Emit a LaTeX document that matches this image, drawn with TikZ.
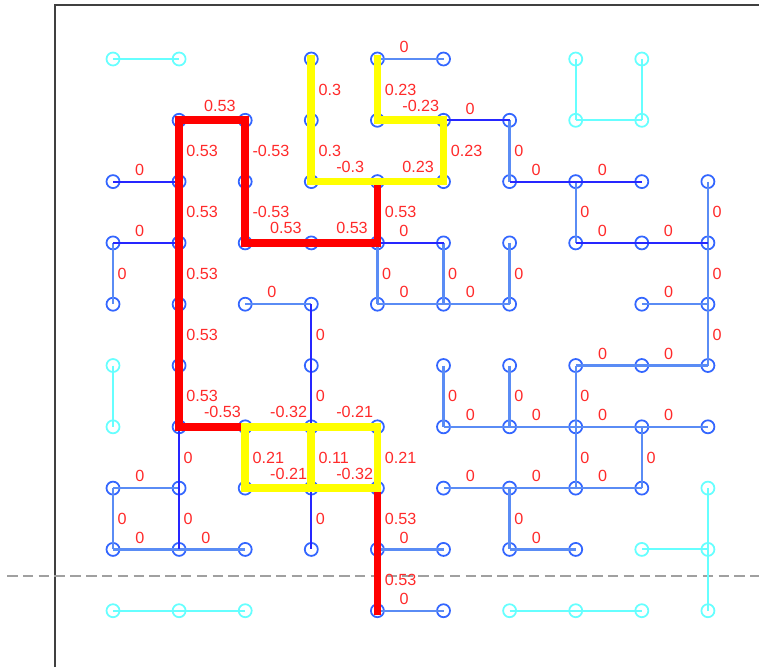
\documentclass[tikz,border=0pt]{standalone}
\usepackage{fontspec}
\usepackage{tikz}
\newfontfamily\labfont{Liberation Sans}
\definecolor{rojoPath}{HTML}{FF0000}
\definecolor{rojoText}{HTML}{FF2A2A}
\definecolor{amarillo}{HTML}{FFFF00}
\definecolor{azulOscuro}{HTML}{2626FF}
\definecolor{azulClaro}{HTML}{5A8CF5}
\definecolor{azulNodo}{HTML}{3366FF}
\definecolor{cian}{HTML}{66FFFF}
\definecolor{marco}{HTML}{404040}
\definecolor{guion}{HTML}{A0A0A0}

\begin{document}
\begin{tikzpicture}[x=0.02cm,y=-0.02cm,
    bnode/.style={circle,draw=azulNodo,line width=1pt,minimum size=0.26cm,inner sep=0pt},
    cnode/.style={circle,draw=cian,line width=1pt,minimum size=0.26cm,inner sep=0pt},
    redline/.style={draw=rojoPath,line width=4.4pt,line cap=rect},
    yelline/.style={draw=amarillo,line width=4.4pt,line cap=rect},
    darkline/.style={draw=azulOscuro,line width=1.1pt},
    lightline/.style={draw=azulClaro,line width=1.35pt},
    cyanline/.style={draw=cian,line width=1.1pt},
    hlab/.style={midway,anchor=south west,inner sep=0pt,xshift=-6.8pt,yshift=2.8pt,
      text=rojoText,font=\labfont\fontsize{9.2}{11}\selectfont},
    vlab/.style={midway,anchor=west,inner sep=0pt,xshift=2pt,
      text=rojoText,font=\labfont\fontsize{9.2}{11}\selectfont}]
  \useasboundingbox (0,0) rectangle (759,667);
  % frame and cut line
  \draw[marco,line width=0.85pt] (55,667) -- (55,5) -- (759,5);
  \draw[guion,line width=0.7pt,dash pattern=on 6pt off 3pt] (7,576) -- (759,576);
  % grid nodes
  \foreach \i/\j in {3/0,4/0,5/0,
      1/1,2/1,3/1,4/1,5/1,6/1,
      0/2,1/2,2/2,3/2,4/2,5/2,6/2,7/2,8/2,9/2,
      0/3,1/3,2/3,3/3,4/3,5/3,6/3,7/3,8/3,9/3,
      0/4,1/4,2/4,3/4,4/4,5/4,6/4,8/4,9/4,
      1/5,3/5,5/5,6/5,7/5,8/5,9/5,
      1/6,2/6,3/6,4/6,5/6,6/6,7/6,8/6,9/6,
      0/7,1/7,2/7,3/7,4/7,5/7,6/7,7/7,8/7,
      0/8,1/8,2/8,3/8,4/8,5/8,6/8,7/8,
      4/9,5/9}
    \node[bnode] (n\i\j) at ({113+66.1*\i},{59+61.3*\j}) {};
  \foreach \i/\j in {0/0,1/0,7/0,8/0,7/1,8/1,0/5,0/6,9/7,8/8,9/8,0/9,1/9,2/9,6/9,7/9,8/9,9/9}
    \node[cnode] (n\i\j) at ({113+66.1*\i},{59+61.3*\j}) {};
  % unused links
  \foreach \a/\b in {00/10,70/71,80/81,71/81,05/06,97/98,88/98,98/99,09/19,19/29,69/79,79/89}
    \draw[cyanline] (n\a.center) -- (n\b.center);
  % zero links
  \foreach \a/\b in {40/50,44/54,54/64,84/94,75/85,85/95,56/66,66/76,76/86,86/96,
      57/67,67/77,77/87,68/78,07/17,08/18,18/28,24/34,48/58,49/59}
    \draw[lightline] (n\a.center) -- node[hlab]{0} (n\b.center);
  \foreach \a/\b in {61/62,03/04,92/93,72/73,43/44,53/54,63/64,93/94,94/95,
      55/56,65/66,75/76,76/77,86/87,67/68,07/08}
    \draw[lightline] (n\a.center) -- node[vlab]{0} (n\b.center);
  \foreach \a/\b in {02/12,03/13,51/61,62/72,72/82,73/83,83/93,43/53}
    \draw[darkline] (n\a.center) -- node[hlab]{0} (n\b.center);
  \foreach \a/\b in {34/35,35/36,16/17,17/18,37/38}
    \draw[darkline] (n\a.center) -- node[vlab]{0} (n\b.center);
  % red path
  \foreach \a/\b/\t in {11/21/0.53,23/33/0.53,33/43/0.53,16/26/-0.53}
    \draw[redline] (n\a.center) -- node[hlab]{\t} (n\b.center);
  \foreach \a/\b/\t in {11/12/0.53,21/22/-0.53,12/13/0.53,22/23/-0.53,42/43/0.53,
      13/14/0.53,14/15/0.53,15/16/0.53,47/48/0.53,48/49/0.53}
    \draw[redline] (n\a.center) -- node[vlab]{\t} (n\b.center);
  % yellow loops
  \foreach \a/\b/\t in {32/42/-0.3,41/51/-0.23,42/52/0.23,26/36/-0.32,36/46/-0.21,
      27/37/-0.21,37/47/-0.32}
    \draw[yelline] (n\a.center) -- node[hlab]{\t} (n\b.center);
  \foreach \a/\b/\t in {30/31/0.3,31/32/0.3,40/41/0.23,51/52/0.23,26/27/0.21,
      36/37/0.11,46/47/0.21}
    \draw[yelline] (n\a.center) -- node[vlab]{\t} (n\b.center);
\end{tikzpicture}
\end{document}
